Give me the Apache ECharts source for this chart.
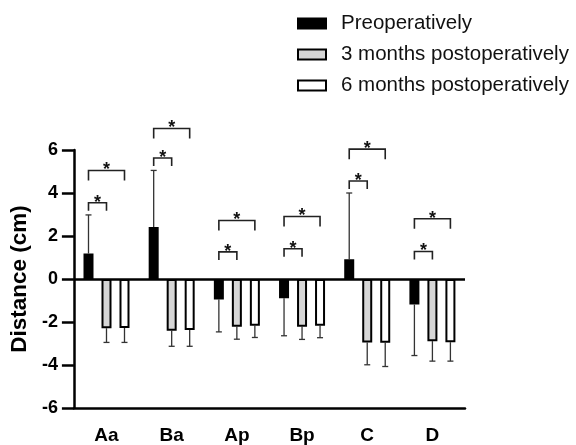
<!DOCTYPE html>
<html><head><meta charset="utf-8">
<script src="https://cdn.jsdelivr.net/npm/echarts@6/dist/echarts.min.js"></script>
<style>html,body{margin:0;padding:0;background:#fff}#c{width:576px;height:445px}</style>
</head><body><div id="c"></div>
<script>
var categories = ['Aa', 'Ba', 'Ap', 'Bp', 'C', 'D'];
var seriesNames = ['Preoperatively', '3 months postoperatively', '6 months postoperatively'];
var preMean = [1.19, 2.42, -0.95, -0.89, 0.92, -1.19];
var preSD   = [1.79, 2.63, 1.51, 1.75, 3.08, 2.37];
var m3Mean  = [-2.29, -2.41, -2.22, -2.22, -2.95, -2.89];
var m3SD    = [0.66, 0.72, 0.58, 0.59, 1.04, 0.93];
var m6Mean  = [-2.28, -2.37, -2.17, -2.17, -2.97, -2.94];
var m6SD    = [0.67, 0.76, 0.55, 0.56, 1.10, 0.88];
var yTicks = [-6, -4, -2, 0, 2, 4, 6];
// significance brackets: category index, from series, to series, height (cm)
var brCat  = [0, 0, 1, 1, 2, 2, 3, 3, 4, 4, 5, 5];
var brFrom = [0, 0, 0, 0, 0, 0, 0, 0, 0, 0, 0, 0];
var brTo   = [1, 2, 1, 2, 1, 2, 1, 2, 1, 2, 1, 2];
var brY    = [3.55, 5.05, 5.63, 7.0, 1.26, 2.72, 1.41, 2.91, 4.56, 6.04, 1.28, 2.80];
var brLabel = ['*', '*', '*', '*', '*', '*', '*', '*', '*', '*', '*', '*'];

var FONT = 'Arial, "Liberation Sans", Helvetica, sans-serif';
var BAR_W = 10, BAR_GAP = 0.8;
var SPACING = BAR_W * (1 + BAR_GAP);
var fills = ['#000000', '#d6d6d6', '#ffffff'];
var means = [preMean, m3Mean, m6Mean];
var sds = [preSD, m3SD, m6SD];

var chart = echarts.init(document.getElementById('c'));

function offsetOf(si) { return (si - 1) * SPACING; }

var series = [];
for (var s = 0; s < 3; s++) {
  var bs = {
    name: seriesNames[s], type: 'bar', data: means[s],
    barWidth: BAR_W, barGap: (BAR_GAP * 100) + '%',
    itemStyle: { color: fills[s], borderColor: '#000', borderWidth: 2 },
    silent: true, z: 3
  };
  if (s === 0) {
    bs.markLine = {
      silent: true, symbol: ['none', 'none'], label: { show: false },
      lineStyle: { color: '#000', width: 2.5, type: 'solid' },
      data: [{ yAxis: 0 }], animation: false
    };
  }
  series.push(bs);
}
// error bars
var errData = [];
for (var s2 = 0; s2 < 3; s2++) {
  for (var i = 0; i < categories.length; i++) {
    errData.push([i, means[s2][i], sds[s2][i], s2]);
  }
}
series.push({
  type: 'custom', silent: true, z: 2, clip: false,
  data: errData,
  renderItem: function (params, api) {
    var cat = api.value(0), m = api.value(1), sd = api.value(2), si = api.value(3);
    var end = m >= 0 ? m + sd : m - sd;
    var p0 = api.coord([cat, m]);
    var p1 = api.coord([cat, end]);
    var x = p0[0] + offsetOf(si);
    var st = { stroke: '#333', lineWidth: 1.3 };
    return { type: 'group', children: [
      { type: 'line', shape: { x1: x, y1: p0[1], x2: x, y2: p1[1] }, style: st },
      { type: 'line', shape: { x1: x - 3, y1: p1[1], x2: x + 3, y2: p1[1] }, style: st }
    ]};
  }
});
// brackets
var brData = [];
for (var b = 0; b < brCat.length; b++) brData.push([brCat[b], brY[b], brFrom[b], brTo[b], b]);
series.push({
  type: 'custom', silent: true, z: 4, clip: false,
  data: brData,
  renderItem: function (params, api) {
    var cat = api.value(0), y = api.value(1), f = api.value(2), t = api.value(3), idx = api.value(4);
    var p = api.coord([cat, y]);
    var x1 = p[0] + offsetOf(f), x2 = p[0] + offsetOf(t);
    var leg = t - f > 1 ? 10 : 8;
    var st = { stroke: '#222', lineWidth: 1.6, fill: null };
    return { type: 'group', children: [
      { type: 'polyline', shape: { points: [[x1, p[1] + leg], [x1, p[1]], [x2, p[1]], [x2, p[1] + leg]] }, style: st },
      { type: 'text', style: { text: brLabel[idx], x: (x1 + x2) / 2, y: p[1] + 9, textAlign: 'center', textVerticalAlign: 'bottom', font: 'bold 18px ' + FONT, fill: '#111' } }
    ]};
  }
});

chart.setOption({
  animation: false,
  backgroundColor: '#fff',
  legend: {
    data: seriesNames, orient: 'vertical', left: 292, top: 8,
    itemWidth: 28, itemHeight: 10, itemGap: 10,
    icon: 'rect',
    textStyle: { fontFamily: FONT, fontSize: 20.5, color: '#111', padding: [0, 0, 0, 10] },
    selectedMode: false
  },
  grid: { left: 69, right: 111, top: 150, bottom: 32.7, containLabel: false },
  xAxis: {
    type: 'category', data: categories,
    axisLine: { onZero: false, lineStyle: { color: '#000', width: 2.5 } },
    axisTick: { alignWithLabel: true, length: 11, lineStyle: { color: '#000', width: 2.5 } },
    axisLabel: { color: '#000', fontFamily: FONT, fontSize: 19, fontWeight: 'bold', margin: 18 },
    splitLine: { show: false }
  },
  yAxis: {
    type: 'value', min: yTicks[0], max: yTicks[yTicks.length - 1], interval: 2,
    name: 'Distance (cm)', nameLocation: 'middle', nameGap: 33, nameRotate: 90,
    nameTextStyle: { color: '#000', fontFamily: FONT, fontSize: 22.5, fontWeight: 'bold' },
    axisLine: { show: true, lineStyle: { color: '#000', width: 2.5 } },
    axisTick: { show: true, length: 12, lineStyle: { color: '#000', width: 2.5 } },
    axisLabel: { color: '#000', fontFamily: FONT, fontSize: 18, fontWeight: 'bold', margin: 16 },
    splitLine: { show: false }
  },
  series: series
});
</script></body></html>
